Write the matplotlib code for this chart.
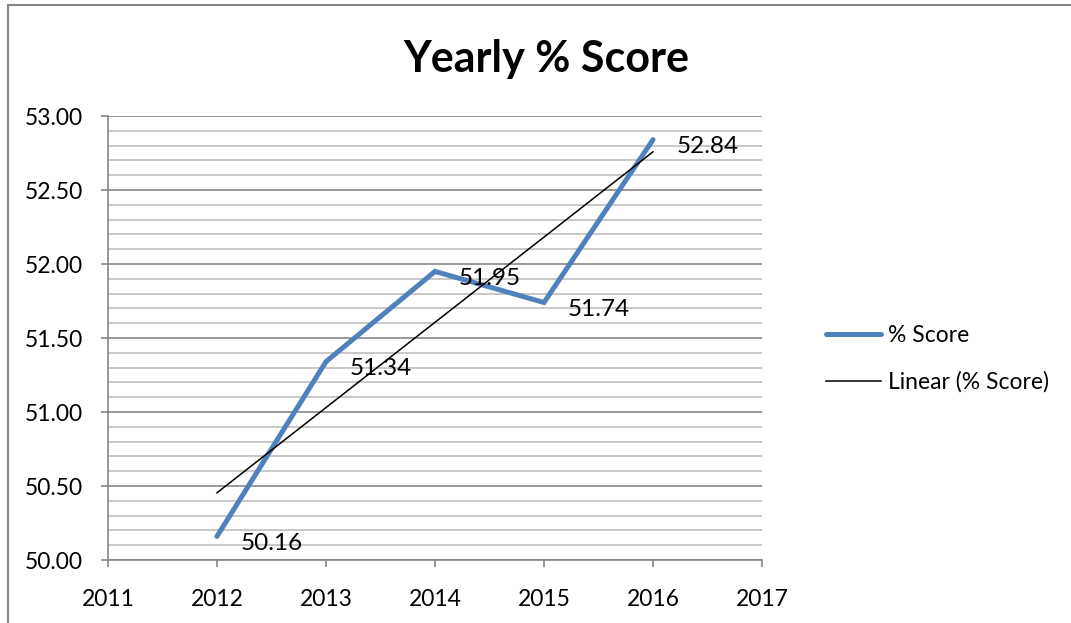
import matplotlib.pyplot as plt
import numpy as np
from matplotlib.lines import Line2D
from matplotlib.ticker import MultipleLocator, FormatStrFormatter

years = [2012, 2013, 2014, 2015, 2016]
scores = [50.16, 51.34, 51.95, 51.74, 52.84]
x_ticks = [2011, 2012, 2013, 2014, 2015, 2016, 2017]

plt.rcParams['font.family'] = ['Lato', 'DejaVu Sans']

fig = plt.figure(figsize=(10.71, 6.23), dpi=100)
ax = fig.add_axes([0.1008, 0.1011, 0.6107, 0.7127])

# chart border: only the top and left edges fall inside the image
bx, by = 7.5 / 1071, 1 - 5 / 623
fig.add_artist(Line2D([bx, 1.0], [by, by], transform=fig.transFigure,
                      color='#868686', linewidth=1.5))
fig.add_artist(Line2D([bx, bx], [0.0, by], transform=fig.transFigure,
                      color='#868686', linewidth=1.5))

ax.plot(years, scores, color='#4F81BD', linewidth=3.6,
        solid_capstyle='round', solid_joinstyle='miter', label='% Score', zorder=3)

slope, intercept = np.polyfit(years, scores, 1)
trend = [slope * y + intercept for y in years]
ax.plot([years[0], years[-1]], [trend[0], trend[-1]], color='black',
        linewidth=1.1, label='Linear (% Score)', zorder=4)

for x, y in zip(years, scores):
    ax.annotate(f'{y:.2f}', (x, y), xytext=(17, -5), textcoords='offset points',
                ha='left', va='center', fontsize=17.5, color='black', zorder=5)

ax.set_xlim(2011, 2017)
ax.set_ylim(50, 53)
ax.set_xticks(x_ticks)
ax.yaxis.set_major_locator(MultipleLocator(0.5))
ax.yaxis.set_minor_locator(MultipleLocator(0.1))
ax.yaxis.set_major_formatter(FormatStrFormatter('%.2f'))

ax.grid(True, which='major', axis='y', color='#868686', linewidth=1.2)
ax.grid(True, which='minor', axis='y', color='#bfbfbf', linewidth=1.2)
ax.set_axisbelow(True)

for side in ['top', 'right']:
    ax.spines[side].set_visible(False)
for side in ['left', 'bottom']:
    ax.spines[side].set_color('#868686')
    ax.spines[side].set_linewidth(1.2)

ax.tick_params(axis='both', which='major', direction='out', length=5,
               color='#868686', width=1.2, labelsize=16.5)
ax.tick_params(axis='y', which='major', pad=13)
ax.tick_params(axis='x', which='major', pad=16)
ax.tick_params(axis='y', which='minor', length=0)

fig.suptitle('Yearly % Score', fontsize=31, fontweight='bold', x=0.51, y=0.937)

ax.legend(loc='center left', bbox_to_anchor=(1.098, 0.453), frameon=False,
          fontsize=16.5, handlelength=2.4, labelspacing=1.1, handletextpad=0.3,
          borderpad=0, borderaxespad=0)

fig.savefig('out.png', dpi=100)
